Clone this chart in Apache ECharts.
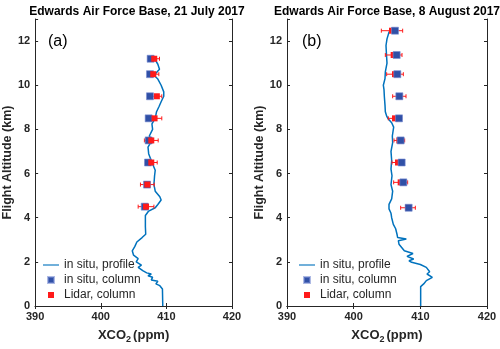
<!DOCTYPE html>
<html>
<head>
<meta charset="utf-8">
<script src="https://cdn.jsdelivr.net/npm/echarts@6/dist/echarts.min.js"></script>
<style>
  html, body { margin: 0; padding: 0; background: #fff; }
  #main { width: 500px; height: 349px; }
</style>
</head>
<body>
<div id="main"></div>
<script>
// panel (a): 21 July 2017
var profAltA = [11.3, 11.15, 10.95, 10.72, 10.58, 10.45, 10.28, 10.0, 9.7, 9.5, 9.25, 9.05, 8.8, 8.5, 8.25, 8.0, 7.7, 7.5, 7.2, 6.9, 6.5, 6.15, 5.9, 5.5, 5.2, 4.95, 4.8, 4.6, 4.45, 4.3, 4.1, 3.6, 3.25, 3.1, 2.9, 2.7, 2.5, 2.3, 2.15, 2.0, 1.85, 1.75, 1.6, 1.5, 1.45, 1.37, 1.3, 1.18, 1.12, 1.0, 0.92, 0.85, 0.77, 0];
var profCo2A = [408.2, 408.3, 408.7, 408.95, 408.5, 408.1, 408.7, 409.2, 409.6, 409.6, 409.2, 408.9, 408.5, 408.3, 407.8, 407.9, 407.4, 407.8, 407.2, 407.3, 407.8, 408.3, 408.2, 408.1, 408.3, 409.0, 409.2, 408.7, 408.3, 407.3, 406.8, 406.8, 406.85, 406.3, 405.5, 405.2, 404.8, 405.0, 405.7, 405.4, 406.2, 405.7, 406.4, 407.0, 407.7, 407.2, 407.9, 407.7, 408.7, 408.4, 409.0, 409.2, 409.4, 409.45];
var colAltA = [11.2, 10.5, 9.5, 8.5, 7.5, 6.5, 5.5, 4.5];
var insituColA = [407.6, 407.5, 407.5, 407.3, 407.3, 407.2, 407.05, 406.7];
var lidarColA = [408.15, 408.0, 408.55, 408.2, 407.7, 407.7, 407.1, 406.9];
var lidarErrA = [0.8, 0.85, 0.75, 1.1, 1.05, 0.9, 1.05, 1.2];

// panel (b): 8 August 2017
var profAltB = [12.6, 12.4, 12.1, 11.8, 11.5, 11.0, 10.6, 10.3, 10.0, 9.8, 9.5, 9.1, 8.8, 8.6, 8.47, 8.3, 8.1, 7.7, 7.4, 7.0, 6.6, 6.2, 5.9, 5.5, 5.2, 4.85, 4.6, 4.4, 4.2, 4.0, 3.7, 3.5, 3.25, 3.1, 3.03, 2.96, 2.8, 2.65, 2.5, 2.38, 2.25, 2.13, 2.05, 1.98, 1.88, 1.75, 1.68, 1.55, 1.45, 1.3, 1.15, 1.0, 0.88, 0];
var profCo2B = [405.8, 405.3, 405.0, 404.85, 404.9, 405.0, 404.75, 404.7, 404.45, 404.55, 404.6, 404.7, 404.75, 404.95, 405.2, 405.7, 406.0, 405.8, 405.85, 405.6, 405.7, 405.6, 405.75, 405.6, 405.85, 405.7, 405.3, 405.3, 405.6, 405.7, 405.95, 406.3, 406.5, 406.6, 407.9, 406.7, 406.8, 407.2, 407.6, 408.9, 408.0, 409.0, 408.3, 408.7, 410.0, 410.9, 410.6, 411.4, 411.0, 411.8, 410.9, 410.5, 410.05, 410.05];
var colAltB = [12.47, 11.37, 10.5, 9.5, 8.5, 7.5, 6.5, 5.6, 4.45];
var insituColB = [406.2, 406.45, 406.55, 406.85, 406.8, 407.05, 407.2, 407.45, 408.25];
var lidarColB = [405.75, 406.0, 406.2, 406.85, 406.2, 406.85, 406.65, 407.05, 408.15];
var lidarErrB = [1.6, 1.25, 1.25, 1.0, 1.0, 0.8, 0.9, 1.05, 1.1];

var xTicks = [390, 400, 410, 420];
var yTicks = [0, 2, 4, 6, 8, 10, 12];

function zip(a, b, c) {
  return a.map(function (v, i) { return c ? [v, b[i], c[i]] : [v, b[i]]; });
}

var font = 'Liberation Sans, Arial, sans-serif';
var axisColor = '#262626';
var names = ['in situ, profile', 'in situ, column', 'Lidar, column'];
var sq = 'path://M0,0H10V10H0Z';
var bar = 'path://M0,0H20V1.4H0Z';

function errBar(params, api) {
  var x = api.value(0), y = api.value(1), e = api.value(2);
  var p1 = api.coord([x - e, y]), p2 = api.coord([x + e, y]);
  var st = { stroke: '#ff1a1a', lineWidth: 1 };
  return {
    type: 'group',
    children: [
      { type: 'line', shape: { x1: p1[0], y1: p1[1], x2: p2[0], y2: p2[1] }, style: st },
      { type: 'line', shape: { x1: p1[0], y1: p1[1] - 2, x2: p1[0], y2: p1[1] + 2 }, style: st },
      { type: 'line', shape: { x1: p2[0], y1: p2[1] - 2, x2: p2[0], y2: p2[1] + 2 }, style: st }
    ]
  };
}

var grids = [
  { left: 32, top: 19, width: 200, height: 288 },
  { left: 287, top: 19, width: 200, height: 288 }
];

var xAxes = [], yAxes = [];
grids.forEach(function (g, i) {
  xAxes.push({
    gridIndex: i, type: 'value', min: 390, max: 420, interval: 10,
    name: '{b|XCO}{s|2}{b|(ppm)}', nameLocation: 'middle', nameGap: 20,
    nameTextStyle: { rich: {
      b: { fontFamily: font, fontWeight: 'bold', fontSize: 13, color: axisColor },
      s: { fontFamily: font, fontWeight: 'bold', fontSize: 9, color: axisColor, verticalAlign: 'bottom', padding: [9, 2, 0, 0] }
    } },
    axisLine: { lineStyle: { color: axisColor, width: 1 } },
    axisTick: { inside: true, length: 3, lineStyle: { color: axisColor } },
    axisLabel: { fontFamily: font, fontWeight: 'bold', fontSize: 11, color: axisColor, margin: 5 },
    splitLine: { show: false }
  });
  xAxes.push({
    gridIndex: i, type: 'value', min: 390, max: 420, interval: 10, position: 'top',
    axisLine: { lineStyle: { color: axisColor, width: 1 } },
    axisTick: { inside: true, length: 3, lineStyle: { color: axisColor } },
    axisLabel: { show: false }, splitLine: { show: false }
  });
  yAxes.push({
    gridIndex: i, type: 'value', min: 0, max: 13, interval: 2,
    name: 'Flight Altitude (km)', nameLocation: 'middle', nameGap: 10,
    nameTextStyle: { fontFamily: font, fontWeight: 'bold', fontSize: 12.5, color: axisColor },
    axisLine: { show: true, lineStyle: { color: axisColor, width: 1 } },
    axisTick: { show: true, inside: true, length: 3, lineStyle: { color: axisColor } },
    axisLabel: { fontFamily: font, fontWeight: 'bold', fontSize: 11, color: axisColor, margin: 5,
      formatter: function (v) { return yTicks.indexOf(v) >= 0 ? v : ''; } },
    splitLine: { show: false }
  });
  yAxes.push({
    gridIndex: i, type: 'value', min: 0, max: 13, interval: 2, position: 'right',
    axisLine: { show: true, lineStyle: { color: axisColor, width: 1 } },
    axisTick: { show: true, inside: true, length: 3, lineStyle: { color: axisColor } },
    axisLabel: { show: false }, splitLine: { show: false }
  });
});

function panelSeries(k, profAlt, profCo2, colAlt, insitu, lidar, err, blueOnTop) {
  var xi = k * 2, yi = k * 2;
  return [
    { name: names[0], type: 'line', xAxisIndex: xi, yAxisIndex: yi, symbol: 'none',
      data: zip(profCo2, profAlt), lineStyle: { color: '#0072BD', width: 1.5 }, itemStyle: { color: '#0072BD' }, z: 2 },
    { name: names[2], type: 'custom', xAxisIndex: xi, yAxisIndex: yi, renderItem: errBar,
      encode: { x: 0, y: 1 }, data: zip(lidar, colAlt, err), itemStyle: { color: '#ff1a1a' }, z: 3 },
    { name: names[1], type: 'scatter', xAxisIndex: xi, yAxisIndex: yi, symbol: 'rect', symbolSize: 7,
      data: zip(insitu, colAlt), itemStyle: { color: '#3050a6', borderColor: 'rgba(120,140,210,0.6)', borderWidth: 1, opacity: 1 },
      z: blueOnTop ? 5 : 4 },
    { name: names[2], type: 'scatter', xAxisIndex: xi, yAxisIndex: yi, symbol: 'rect', symbolSize: 6,
      data: zip(lidar, colAlt), itemStyle: { color: '#ff1a1a', opacity: 1 }, z: blueOnTop ? 4 : 5 }
  ];
}

function legendAt(left) {
  return {
    orient: 'vertical', left: left, top: 254, itemWidth: 16, itemHeight: 6, itemGap: 3,
    selectedMode: false,
    textStyle: { fontFamily: font, fontSize: 12, color: '#262626' },
    data: [
      { name: names[0], icon: bar, itemStyle: { color: '#0072BD' } },
      { name: names[1], icon: sq, itemStyle: { color: '#3050a6' } },
      { name: names[2], icon: sq, itemStyle: { color: '#ff1a1a' } }
    ]
  };
}

var chart = echarts.init(document.getElementById('main'), null, { renderer: 'canvas' });
chart.setOption({
  animation: false,
  backgroundColor: '#fff',
  title: [
    { text: 'Edwards Air Force Base, 21 July 2017', left: 132, top: 1, textAlign: 'center',
      textStyle: { fontFamily: font, fontWeight: 'bold', fontSize: 12, color: '#000' } },
    { text: 'Edwards Air Force Base, 8 August 2017', left: 382, top: 1, textAlign: 'center',
      textStyle: { fontFamily: font, fontWeight: 'bold', fontSize: 12, color: '#000' } }
  ],
  legend: [legendAt(38), legendAt(294)],
  grid: grids,
  xAxis: xAxes,
  yAxis: yAxes,
  graphic: [
    { type: 'text', left: 48, top: 34, style: { text: '(a)', font: '16px ' + font, fill: '#000' } },
    { type: 'text', left: 302, top: 34, style: { text: '(b)', font: '16px ' + font, fill: '#000' } }
  ],
  series: panelSeries(0, profAltA, profCo2A, colAltA, insituColA, lidarColA, lidarErrA, false)
    .concat(panelSeries(1, profAltB, profCo2B, colAltB, insituColB, lidarColB, lidarErrB, true))
});
</script>
</body>
</html>
